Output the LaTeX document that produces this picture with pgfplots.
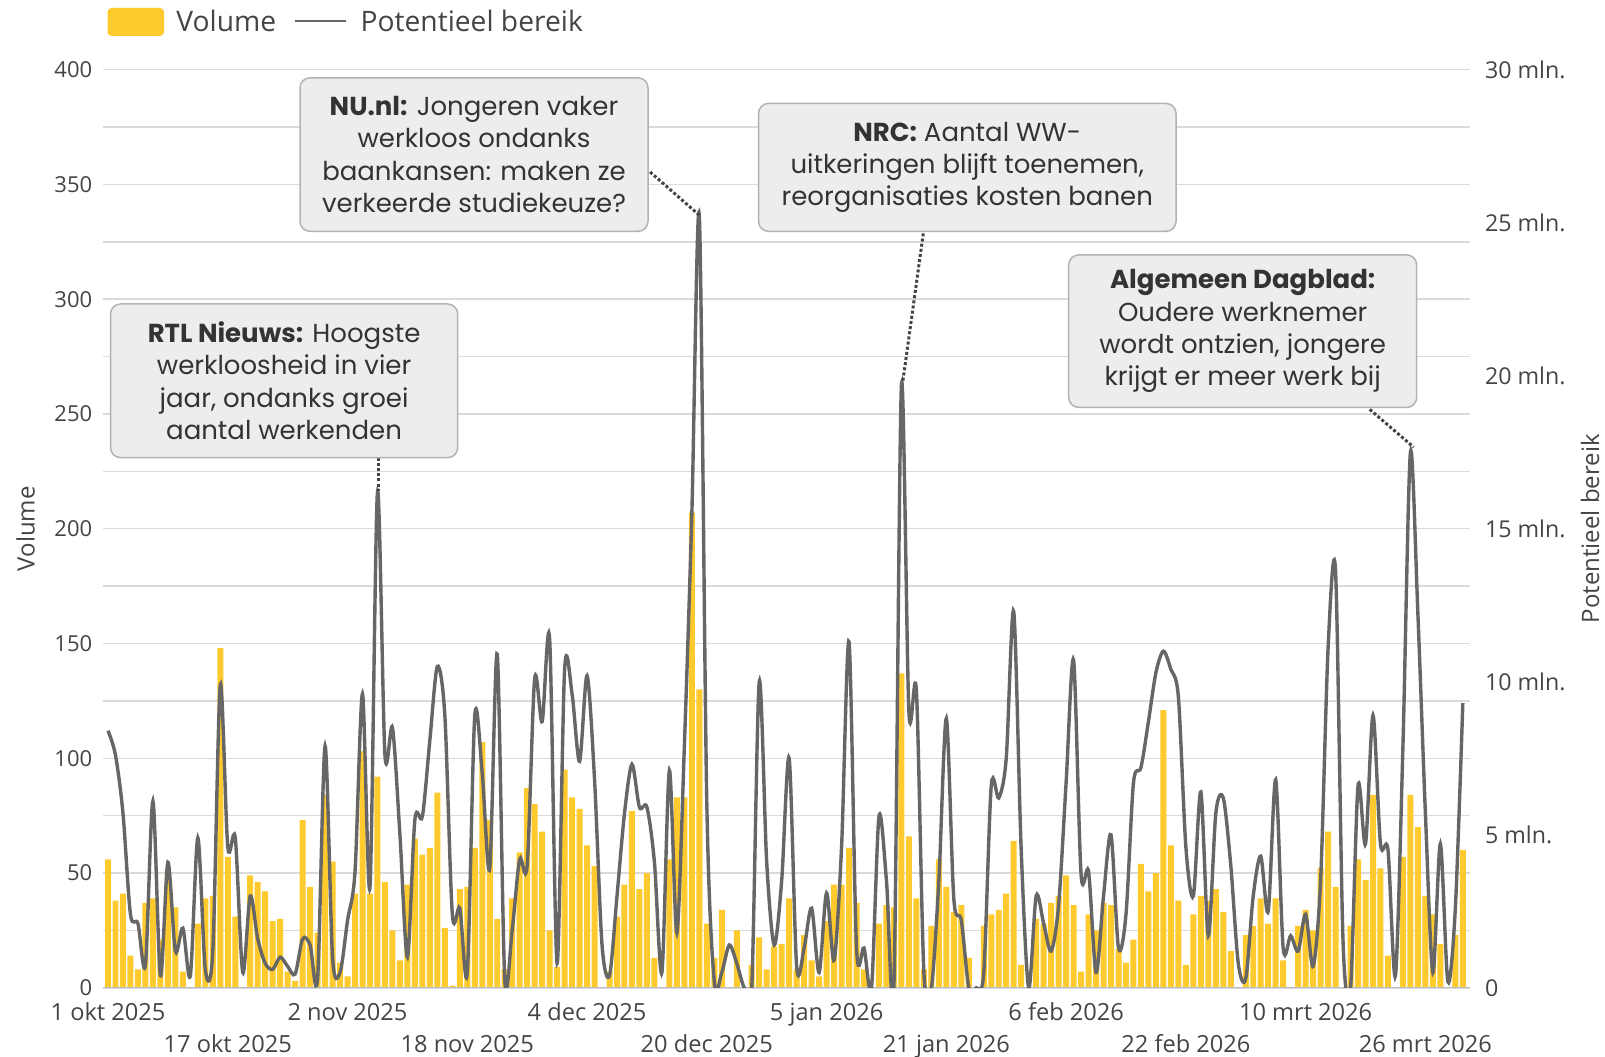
\documentclass[border=0pt]{standalone}
\usepackage{pgfplots}
\pgfplotsset{compat=1.18}
\usepackage{fontspec}
\setmainfont{Open Sans}
\newfontfamily\annfont{Poppins}
\definecolor{barcol}{HTML}{FFCA2E}
\definecolor{linecol}{HTML}{666666}
\definecolor{gridcol}{HTML}{DADADA}
\definecolor{basecol}{HTML}{BBBBBB}
\definecolor{txtcol}{HTML}{444444}
\definecolor{annfill}{HTML}{EDEDED}
\definecolor{annborder}{HTML}{B3B3B3}
\definecolor{anntext}{HTML}{333333}
\definecolor{conncol}{HTML}{444444}
\tikzset{
  ann/.style={draw=annborder, fill=annfill, rounded corners=5pt, line width=0.75pt,
    align=center, font=\annfont\fontsize{13}{16.2}\selectfont, text=anntext, inner sep=0pt},
  conn/.style={conncol, line width=1.5pt, dash pattern=on 1.5pt off 1.1pt}
}
\begin{document}
\begin{tikzpicture}
\pgfplotsset{
  base/.style={scale only axis, width=683.35pt, height=459.1pt,
    xmin=-0.63, xmax=181.96, axis line style={draw=none}, tick style={draw=none},
    tick label style={font=\fontsize{11}{13}\selectfont, text=txtcol},
    label style={font=\fontsize{12}{14}\selectfont, text=txtcol},
    /pgf/number format/assume math mode=true}
}
\begin{axis}[base, ymin=0, ymax=400,
  ytick={0,50,...,400}, minor ytick={25,75,...,375},
  ymajorgrids, yminorgrids,
  major grid style={gridcol, line width=0.75pt},
  minor grid style={gridcol, line width=0.75pt},
  xtick={0,16,...,176},
  xticklabels={1 okt 2025,\raisebox{-15.8pt}{17 okt 2025},2 nov 2025,\raisebox{-15.8pt}{18 nov 2025},4 dec 2025,\raisebox{-15.8pt}{20 dec 2025},5 jan 2026,\raisebox{-15.8pt}{21 jan 2026},6 feb 2026,\raisebox{-15.8pt}{22 feb 2026},10 mrt 2026,\raisebox{-15.8pt}{26 mrt 2026}},
  xticklabel style={anchor=base, yshift=-16.3pt, font=\fontsize{11.8}{13}\selectfont},
  yticklabel style={xshift=-2pt},
  ylabel={Volume},
  ylabel style={at={(axis description cs:-0.0569,0.5)}, anchor=center}]
\addplot[ybar, bar width=0.8, fill=barcol, draw=none] coordinates {
(0,56)(1,38)(2,41)(3,14)(4,8)(5,37)(6,39)(7,21)(8,51)(9,35)
(10,7)(11,0)(12,28)(13,39)(14,40)(15,148)(16,57)(17,31)(18,0)(19,49)
(20,46)(21,42)(22,29)(23,30)(24,7)(25,3)(26,73)(27,44)(28,24)(29,84)
(30,55)(31,11)(32,5)(33,41)(34,103)(35,41)(36,92)(37,46)(38,25)(39,12)
(40,45)(41,65)(42,58)(43,61)(44,85)(45,26)(46,1)(47,43)(48,44)(49,61)
(50,107)(51,73)(52,30)(53,8)(54,39)(55,59)(56,87)(57,80)(58,68)(59,25)
(60,9)(61,95)(62,83)(63,78)(64,62)(65,53)(66,0)(67,7)(68,31)(69,45)
(70,77)(71,43)(72,50)(73,13)(74,0)(75,56)(76,83)(77,83)(78,207)(79,130)
(80,28)(81,13)(82,34)(83,0)(84,25)(85,0)(86,10)(87,22)(88,8)(89,18)
(90,19)(91,39)(92,8)(93,23)(94,12)(95,5)(96,29)(97,45)(98,45)(99,61)
(100,37)(101,8)(102,0)(103,28)(104,36)(105,35)(106,137)(107,66)(108,39)(109,8)
(110,27)(111,56)(112,44)(113,33)(114,36)(115,13)(116,0)(117,27)(118,32)(119,34)
(120,41)(121,64)(122,10)(123,0)(124,30)(125,28)(126,37)(127,40)(128,49)(129,36)
(130,7)(131,32)(132,25)(133,37)(134,36)(135,17)(136,11)(137,21)(138,54)(139,42)
(140,50)(141,121)(142,62)(143,38)(144,10)(145,32)(146,40)(147,38)(148,43)(149,33)
(150,16)(151,0)(152,23)(153,27)(154,39)(155,28)(156,39)(157,12)(158,0)(159,27)
(160,34)(161,25)(162,52)(163,68)(164,44)(165,0)(166,27)(167,56)(168,47)(169,84)
(170,52)(171,14)(172,0)(173,57)(174,84)(175,70)(176,40)(177,32)(178,19)(179,0)
(180,23)(181,60)
};
\draw[basecol, line width=0.75pt] (rel axis cs:0,0) -- (rel axis cs:1,0);
\end{axis}
\begin{axis}[base, ymin=0, ymax=30,
  xtick=\empty,
  ytick={0,5,...,30},
  yticklabels={0,5 mln.,10 mln.,15 mln.,20 mln.,25 mln.,30 mln.},
  yticklabel pos=right,
  yticklabel style={anchor=west, xshift=4pt, font=\fontsize{11.6}{13}\selectfont},
  ylabel={Potentieel bereik},
  ylabel style={at={(axis description cs:1.0878,0.5)}, anchor=center, rotate=0}]
\addplot[linecol, line width=1.7pt, smooth, tension=0.5] coordinates {
(0,8.4)(1,7.6)(2,5.7)(3,2.4)(4,2.1)(5,0.75)(6,6.1)(7,0.4)(8,4.1)(9,1.2)
(10,1.95)(11,0.4)(12,4.9)(13,0.6)(14,1.2)(15,9.9)(16,4.6)(17,4.9)(18,0.5)(19,3.0)
(20,1.6)(21,0.8)(22,0.6)(23,1.0)(24,0.7)(25,0.45)(26,1.6)(27,1.4)(28,0.3)(29,7.9)
(30,1.0)(31,0.5)(32,2.2)(33,3.8)(34,9.6)(35,3.3)(36,16.2)(37,7.6)(38,8.5)(39,5.0)
(40,1.0)(41,5.5)(42,5.6)(43,8.1)(44,10.5)(45,8.9)(46,2.4)(47,2.6)(48,0.5)(49,8.9)
(50,7.0)(51,3.9)(52,10.9)(53,0.3)(54,1.9)(55,4.2)(56,4.0)(57,10.1)(58,8.7)(59,11.4)
(60,0.8)(61,10.4)(62,9.6)(63,7.4)(64,10.2)(65,6.8)(66,1.4)(67,0.4)(68,3.0)(69,5.7)
(70,7.3)(71,5.9)(72,5.9)(73,4.1)(74,0.5)(75,7.1)(76,1.8)(77,7.9)(78,15.5)(79,25.2)
(80,6.0)(81,0.2)(82,0.5)(83,1.4)(84,0.8)(85,0)(86,0)(87,10.0)(88,4.1)(89,1.4)
(90,3.5)(91,7.5)(92,0.7)(93,1.3)(94,2.6)(95,0.5)(96,3.1)(97,0.9)(98,4.6)(99,11.3)
(100,1.3)(101,1.3)(102,0)(103,5.6)(104,3.5)(105,0.1)(106,19.7)(107,9.0)(108,9.7)(109,0.5)
(110,0)(111,3.5)(112,8.8)(113,2.9)(114,2.2)(115,0)(116,0)(117,0.5)(118,6.6)(119,6.2)
(120,7.5)(121,12.3)(122,4.5)(123,0)(124,3.0)(125,2.1)(126,1.2)(127,2.7)(128,6.7)(129,10.7)
(130,3.7)(131,3.8)(132,0.5)(133,3.0)(134,5.0)(135,1.3)(136,2.4)(137,6.7)(138,7.2)(139,8.7)
(140,10.3)(141,11.0)(142,10.4)(143,9.5)(144,4.6)(145,3.0)(146,6.4)(147,1.7)(148,5.7)(149,6.2)
(150,4.0)(151,0.8)(152,0.3)(153,3.0)(154,4.3)(155,2.5)(156,6.8)(157,1.3)(158,1.7)(159,1.2)
(160,2.4)(161,0.7)(162,3.5)(163,11.1)(164,13.6)(165,1.5)(166,0)(167,6.6)(168,4.7)(169,8.9)
(170,4.7)(171,4.5)(172,0.4)(173,7.9)(174,17.5)(175,12.2)(176,5.7)(177,0.5)(178,4.7)(179,0.2)
(180,2.6)(181,9.3)
};
\end{axis}
% connectors
\draw[conn] (137.7pt,265.1pt) -- (137.7pt,248.3pt);
\draw[conn] (273.4pt,407.9pt) -- (297.9pt,386.4pt);
\draw[conn] (410.0pt,377.2pt) -- (399.8pt,303.5pt);
\draw[conn] (633.2pt,289.2pt) -- (655.2pt,270.3pt);
% annotation boxes
\node[ann, minimum width=173.6pt, minimum height=76.8pt] at (90.4pt,303.5pt)
  {\textbf{RTL Nieuws:} Hoogste\\werkloosheid in vier\\jaar, ondanks groei\\aantal werkenden};
\node[ann, minimum width=174pt, minimum height=76.75pt] at (185.35pt,416.6pt)
  {\textbf{NU.nl:} Jongeren vaker\\werkloos ondanks\\baankansen: maken ze\\verkeerde studiekeuze?};
\node[ann, minimum width=208.75pt, minimum height=63.95pt] at (431.98pt,410.2pt)
  {\textbf{NRC:} Aantal WW-\\uitkeringen blijft toenemen,\\reorganisaties kosten banen};
\node[ann, minimum width=174pt, minimum height=76.25pt] at (569.7pt,328.3pt)
  {\textbf{Algemeen Dagblad:}\\Oudere werknemer\\wordt ontzien, jongere\\krijgt er meer werk bij};
% legend
\fill[barcol, rounded corners=2pt] (2.1pt,475.9pt) rectangle (30.35pt,489.9pt);
\node[anchor=west, text=txtcol, font=\fontsize{14.1}{16}\selectfont, inner sep=0pt] at (36.35pt,483.4pt) {Volume};
\draw[linecol, line width=1.2pt] (95.75pt,483.4pt) -- (121.35pt,483.4pt);
\node[anchor=west, text=txtcol, font=\fontsize{14.1}{16}\selectfont, inner sep=0pt] at (128.5pt,483.4pt) {Potentieel bereik};
\pgfresetboundingbox
\path[use as bounding box] (-51.65pt,-34.1pt) rectangle (750.85pt,493.9pt);
\end{tikzpicture}
\end{document}
